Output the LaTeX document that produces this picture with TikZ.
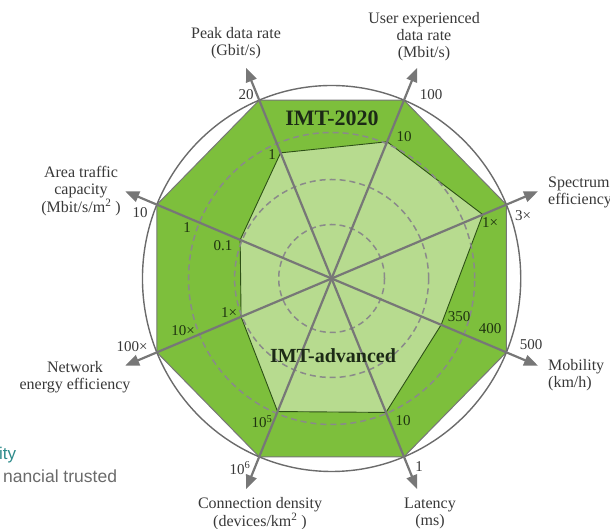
\documentclass[tikz,border=0pt]{standalone}
\usepackage{fontspec}
\setmainfont{Liberation Serif}
\newfontfamily\uisans{Liberation Sans}
\usetikzlibrary{arrows.meta}
\definecolor{dkgreen}{HTML}{7DBF3C}
\definecolor{ltgreen}{HTML}{B7DB8F}
\definecolor{axisgray}{HTML}{777777}
\definecolor{circgray}{HTML}{6B6B6B}
\definecolor{dashgray}{HTML}{8A8A8A}
\definecolor{txtgray}{HTML}{383838}
\definecolor{txtgreen}{HTML}{1F3310}
\definecolor{imtcol}{HTML}{1C2A16}
\definecolor{polyline}{HTML}{2D5016}
\definecolor{tealtxt}{HTML}{2E8B8B}
\definecolor{cuttxt}{HTML}{6A6A6A}
\tikzset{
  axisarrow/.style={draw=axisgray, line width=2.2pt, -{Triangle[length=14pt,width=11pt]}},
  ringdash/.style={draw=dashgray, line width=1.5pt, dash pattern=on 6pt off 4pt},
  ttl/.style={font=\fontsize{16}{17}\selectfont, text=txtgray, inner sep=0pt, align=center},
  num/.style={font=\fontsize{15}{17}\selectfont, text=txtgray, inner sep=0pt},
  numin/.style={num, text=txtgreen},
  bigtxt/.style={font=\bfseries\fontsize{22}{24}\selectfont, text=imtcol, inner sep=0pt},
}
\begin{document}
\begin{tikzpicture}[x=1pt,y=1pt]
\useasboundingbox (0,0) rectangle (610,529);
% ---------------- radar ----------------
\begin{scope}[shift={(331.6,250.5)}, xscale=0.98]
  \coordinate (c) at (0,0);
  \foreach \n/\a/\r in {1/112.5/136, 2/67.5/148, 3/22.5/167, 4/-22.5/121,
                        5/-67.5/145, 6/-112.5/144, 7/-157.5/100, 8/157.5/101} {
    \coordinate (o\n) at (\a:193);
    \coordinate (t\n) at (\a:228);
    \coordinate (i\n) at (\a:\r);
  }
  \filldraw[fill=dkgreen, draw=axisgray, line width=1pt]
    (o1) -- (o2) -- (o3) -- (o4) -- (o5) -- (o6) -- (o7) -- (o8) -- cycle;
  \filldraw[fill=ltgreen, draw=polyline, line width=0.9pt]
    (i1) -- (i2) -- (i3) -- (i4) -- (i5) -- (i6) -- (i7) -- (i8) -- cycle;
  \draw[ringdash] (c) circle[radius=54];
  \draw[ringdash] (c) circle[radius=99];
  \draw[ringdash] (c) circle[radius=146];
  \draw[draw=circgray, line width=1.4pt] (c) circle[radius=193];
  \foreach \n in {1,...,8} { \draw[axisarrow] (c) -- (t\n); }
\end{scope}
% ---------------- labels (pixel coordinates) ----------------
\begin{scope}[shift={(0,529)}, yscale=-1]
  \node[bigtxt] (imt2020) at (332,118) {IMT-2020};
  \node[bigtxt, font=\bfseries\fontsize{20}{22}\selectfont] (imtadv) at (333,356) {IMT-advanced};

  \node[ttl, anchor=north] (lpeak) at (236,27) {Peak data rate\\(Gbit/s)};
  \node[ttl, anchor=north] (luser) at (424,12) {User experienced\\data rate\\(Mbit/s)};
  \node[ttl, align=left, anchor=north west] (lspec) at (548,177) {Spectrum\\efficiency};
  \node[ttl, align=left, anchor=north west] (lmob) at (548,359) {Mobility\\(km/h)};
  \node[ttl, anchor=north] (llat) at (430,497.5) {Latency\\(ms)};
  \node[ttl, anchor=north] (lconn) at (260,497.5) {Connection density\\(devices/km\textsuperscript{2} )};
  \node[ttl, anchor=north] (lnet) at (75,361) {Network\\energy efficiency};
  \node[ttl, anchor=north] (larea) at (81,166) {Area traffic\\capacity\\(Mbit/s/m\textsuperscript{2} )};

  \node[num] (n20) at (246,95) {20};
  \node[numin] (n1p) at (272,155) {1};
  \node[num] (n100) at (431,95) {100};
  \node[numin] (n10u) at (404,137) {10};
  \node[num] (n3x) at (523,216) {3×};
  \node[numin] (n1s) at (490,223) {1×};
  \node[num] (n500) at (531,345) {500};
  \node[numin] (n400) at (490,329) {400};
  \node[numin] (n350) at (459,317) {350};
  \node[num] (n1l) at (419,467) {1};
  \node[numin] (n10l) at (403,421) {10};
  \node[num] (n106) at (240,468) {10\textsuperscript{6}};
  \node[numin] (n105) at (262,422) {10\textsuperscript{5}};
  \node[num] (n100x) at (132,347) {100×};
  \node[numin] (n10x) at (183,331) {10×};
  \node[numin] (n1n) at (229,313) {1×};
  \node[num] (n10a) at (140,213) {10};
  \node[numin] (n1a) at (187,228) {1};
  \node[numin] (n01) at (223,246) {0.1};

  \node[font=\uisans\fontsize{17}{20}\selectfont, text=tealtxt, inner sep=0pt, anchor=base west] (cut1) at (-1,460) {ity};
  \node[font=\uisans\fontsize{17.5}{20}\selectfont, text=cuttxt, inner sep=0pt, anchor=base west] (cut2) at (3,483) {nancial trusted};
\end{scope}
\end{tikzpicture}
\end{document}
